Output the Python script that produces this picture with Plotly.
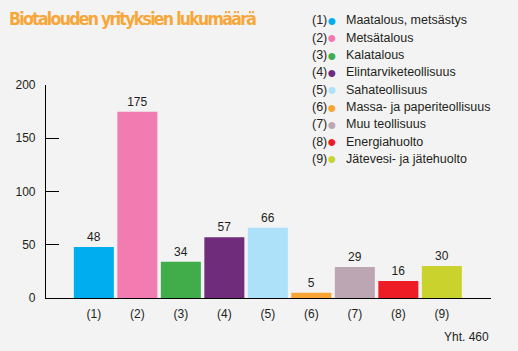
import plotly.graph_objects as go

categories = ["(1)", "(2)", "(3)", "(4)", "(5)", "(6)", "(7)", "(8)", "(9)"]
names = ["Maatalous, metsästys", "Metsätalous", "Kalatalous", "Elintarviketeollisuus",
         "Sahateollisuus", "Massa- ja paperiteollisuus", "Muu teollisuus",
         "Energiahuolto", "Jätevesi- ja jätehuolto"]
values = [48, 175, 34, 57, 66, 5, 29, 16, 30]
colors = ["#00AEEF", "#F27BB1", "#40AD4A", "#6E2C7B", "#ADE1F9",
          "#F9A533", "#BDA6B4", "#EE1D25", "#CAD32E"]
yticks = [0, 50, 100, 150, 200]
total_label = "Yht. 460"
title = "Biotalouden yrityksien lukumäärä"

txt = "#231F20"
font_main = "Liberation Sans, Arial, sans-serif"

xs = list(range(len(categories)))
fig = go.Figure(go.Bar(
    x=xs, y=values, marker=dict(color=colors, line=dict(width=0)),
    text=[str(v) for v in values], textposition="outside",
    textfont=dict(size=12, color=txt, family=font_main), cliponaxis=False,
    width=0.92, showlegend=False,
))

fig.update_layout(
    width=518, height=351,
    margin=dict(l=46, r=27, t=85, b=53),
    paper_bgcolor="#F3F3F3", plot_bgcolor="rgba(0,0,0,0)",
    font=dict(family=font_main, size=12, color=txt),
    xaxis=dict(range=[-1.1, 9.13], tickvals=xs, ticktext=categories,
               showgrid=False, zeroline=False, showline=True, linecolor="#000000",
               linewidth=1.2, ticks="", ticklabelstandoff=4,
               tickfont=dict(size=12, color=txt)),
    yaxis=dict(range=[0, 200], tickvals=yticks, showgrid=False, zeroline=False,
               showline=True, linecolor="#000000", linewidth=1.2,
               ticks="inside", ticklen=13, tickwidth=1.2, tickcolor="#000000",
               tickfont=dict(size=12, color=txt), ticklabelstandoff=7),
)

fig.add_annotation(xref="paper", yref="paper", x=-39/445, y=1 + 66/213,
                   xanchor="left", yanchor="middle", showarrow=False,
                   text="<span style='letter-spacing:-1.7px'><b>" + title + "</b></span>",
                   font=dict(family="DejaVu Sans Condensed, sans-serif",
                             size=17.5, color="#F7A739"))

def px(xp):
    return (xp - 46) / 445

for i, (c, n, col) in enumerate(zip(categories, names, colors)):
    ypy = (298 - (20.5 + i * 17.3)) / 213
    fig.add_annotation(xref="paper", yref="paper", x=px(310), y=ypy,
                       xanchor="left", yanchor="middle", showarrow=False,
                       text=c, font=dict(size=12.5, color=txt, family=font_main))
    fig.add_annotation(xref="paper", yref="paper", x=px(332), y=ypy,
                       xanchor="center", yanchor="middle", showarrow=False,
                       text="●", font=dict(size=16, color=col, family=font_main))
    fig.add_annotation(xref="paper", yref="paper", x=px(344), y=ypy,
                       xanchor="left", yanchor="middle", showarrow=False,
                       text=n, font=dict(size=12.5, color=txt, family=font_main))

fig.add_annotation(xref="paper", yref="paper", x=1, y=-(337 - 298) / 213,
                   xanchor="right", yanchor="middle", showarrow=False,
                   text=total_label, font=dict(size=12, color=txt, family=font_main))

fig.write_html("out.html")
